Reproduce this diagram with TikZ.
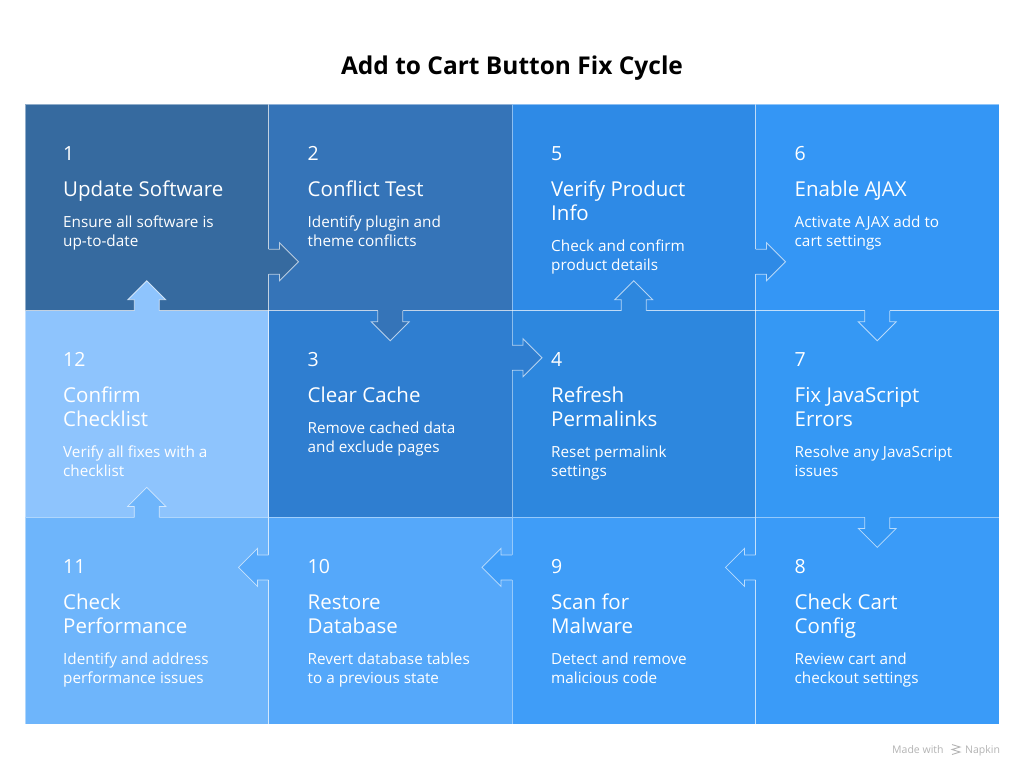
\documentclass[tikz,border=0pt]{standalone}
\usepackage{fontspec}
\setmainfont{Open Sans}
\usetikzlibrary{positioning}

\definecolor{c1col}{HTML}{366A9F}
\definecolor{c2col}{HTML}{3574B8}
\definecolor{c3col}{HTML}{2F7ED0}
\definecolor{c4col}{HTML}{2D87DE}
\definecolor{c5col}{HTML}{2E8AE6}
\definecolor{c6col}{HTML}{3496F5}
\definecolor{c7col}{HTML}{3598F4}
\definecolor{c8col}{HTML}{3A9BF8}
\definecolor{c9col}{HTML}{3F9DF8}
\definecolor{c10col}{HTML}{55A8FA}
\definecolor{c11col}{HTML}{6EB5FB}
\definecolor{c12col}{HTML}{8EC4FD}
\definecolor{markgray}{HTML}{B4B4B4}

\begin{document}
\begin{tikzpicture}[x=1pt, y=-1pt,
    node distance=0pt and 0pt,
    cell/.style={draw=white, draw opacity=0.45, line width=0.8pt, anchor=north west, minimum width=243.5pt, minimum height=206.7pt, inner sep=0pt, outer sep=0pt},
    num/.style={anchor=base west, inner sep=0pt, text=white, font=\fontsize{19.5}{23}\selectfont},
    ttl/.style={anchor=base west, inner sep=0pt, text=white, align=left, font=\fontsize{20.5}{24}\selectfont},
    desc/.style={anchor=base west, inner sep=0pt, text=white, align=left, font=\fontsize{15.3}{19}\selectfont},
    tabline/.style={draw=white, draw opacity=0.65, line width=0.8pt},
    tab/.pic={
      \fill[pic actions] (-2,-12.5) -- (11,-12.5) -- (11,-19) -- (30,0) -- (11,19) -- (11,12.5) -- (-2,12.5) -- cycle;
      \draw[tabline] (0,-12.5) -- (11,-12.5) -- (11,-19) -- (30,0) -- (11,19) -- (11,12.5) -- (0,12.5);
    }
  ]
  \fill[white] (0,0) rectangle (1024,774);
  \useasboundingbox (0,0) rectangle (1024,774);

  \node[font=\bfseries\fontsize{24.5}{28}\selectfont, anchor=base] (title) at (512,74) {Add to Cart Button Fix Cycle};

  % grid of steps
  \node[cell, fill=c1col] (c1) at (25,104) {};
  \node[cell, fill=c2col, right=of c1] (c2) {};
  \node[cell, fill=c5col, right=of c2] (c5) {};
  \node[cell, fill=c6col, right=of c5] (c6) {};
  \node[cell, fill=c12col, below=of c1] (c12) {};
  \node[cell, fill=c3col, right=of c12] (c3) {};
  \node[cell, fill=c4col, right=of c3] (c4) {};
  \node[cell, fill=c7col, right=of c4] (c7) {};
  \node[cell, fill=c11col, below=of c12] (c11) {};
  \node[cell, fill=c10col, right=of c11] (c10) {};
  \node[cell, fill=c9col, right=of c10] (c9) {};
  \node[cell, fill=c8col, right=of c9] (c8) {};

  % tabs between steps
  \pic[fill=c1col] at ([shift={(0,-49)}]c1.south east) {tab};
  \pic[fill=c2col, rotate=-90] at (c2.south) {tab};
  \pic[fill=c3col] at ([shift={(0,47)}]c3.north east) {tab};
  \pic[fill=c4col, rotate=90] at (c4.north) {tab};
  \pic[fill=c5col] at ([shift={(0,-49)}]c5.south east) {tab};
  \pic[fill=c6col, rotate=-90] at (c6.south) {tab};
  \pic[fill=c7col, rotate=-90] at (c7.south) {tab};
  \pic[fill=c8col, rotate=180] at ([shift={(0,50)}]c8.north west) {tab};
  \pic[fill=c9col, rotate=180] at ([shift={(0,50)}]c9.north west) {tab};
  \pic[fill=c10col, rotate=180] at ([shift={(0,50)}]c10.north west) {tab};
  \pic[fill=c11col, rotate=90] at (c11.north) {tab};
  \pic[fill=c12col, rotate=90] at (c12.north) {tab};

  % labels (base = last line)
  \node[num] (n1) at ([shift={(38,56)}]c1.north west) {1};
  \node[ttl] (t1) at ([shift={(38,92)}]c1.north west) {Update Software};
  \node[desc] (d1) at ([shift={(38,142)}]c1.north west) {Ensure all software is\\up-to-date};

  \node[num] (n2) at ([shift={(39,56)}]c2.north west) {2};
  \node[ttl] (t2) at ([shift={(39,92)}]c2.north west) {Conflict Test};
  \node[desc] (d2) at ([shift={(39,142)}]c2.north west) {Identify plugin and\\theme conflicts};

  \node[num] (n5) at ([shift={(39,56)}]c5.north west) {5};
  \node[ttl] (t5) at ([shift={(39,116)}]c5.north west) {Verify Product\\Info};
  \node[desc] (d5) at ([shift={(39,166)}]c5.north west) {Check and confirm\\product details};

  \node[num] (n6) at ([shift={(39,56)}]c6.north west) {6};
  \node[ttl] (t6) at ([shift={(39,92)}]c6.north west) {Enable A\kern-1.2pt JAX};
  \node[desc] (d6) at ([shift={(39,142)}]c6.north west) {Activate AJAX add to\\cart settings};

  \node[num] (n12) at ([shift={(38,56)}]c12.north west) {12};
  \node[ttl] (t12) at ([shift={(38,116)}]c12.north west) {Confirm\\Checklist};
  \node[desc] (d12) at ([shift={(38,166)}]c12.north west) {Verify all fixes with a\\checklist};

  \node[num] (n3) at ([shift={(39,56)}]c3.north west) {3};
  \node[ttl] (t3) at ([shift={(39,92)}]c3.north west) {Clear Cache};
  \node[desc] (d3) at ([shift={(39,142)}]c3.north west) {Remove cached data\\and exclude pages};

  \node[num] (n4) at ([shift={(39,56)}]c4.north west) {4};
  \node[ttl] (t4) at ([shift={(39,116)}]c4.north west) {Refresh\\Permalinks};
  \node[desc] (d4) at ([shift={(39,166)}]c4.north west) {Reset permalink\\settings};

  \node[num] (n7) at ([shift={(39,56)}]c7.north west) {7};
  \node[ttl] (t7) at ([shift={(39,116)}]c7.north west) {Fix JavaScript\\Errors};
  \node[desc] (d7) at ([shift={(39,166)}]c7.north west) {Resolve any JavaScript\\issues};

  \node[num] (n11) at ([shift={(38,56)}]c11.north west) {11};
  \node[ttl] (t11) at ([shift={(38,116)}]c11.north west) {Check\\Performance};
  \node[desc] (d11) at ([shift={(38,166)}]c11.north west) {Identify and address\\performance issues};

  \node[num] (n10) at ([shift={(39,56)}]c10.north west) {10};
  \node[ttl] (t10) at ([shift={(39,116)}]c10.north west) {Restore\\Database};
  \node[desc] (d10) at ([shift={(39,166)}]c10.north west) {Revert database tables\\to a previous state};

  \node[num] (n9) at ([shift={(39,56)}]c9.north west) {9};
  \node[ttl] (t9) at ([shift={(39,116)}]c9.north west) {Scan for\\Malware};
  \node[desc] (d9) at ([shift={(39,166)}]c9.north west) {Detect and remove\\malicious code};

  \node[num] (n8) at ([shift={(39,56)}]c8.north west) {8};
  \node[ttl] (t8) at ([shift={(39,116)}]c8.north west) {Check Cart\\Config};
  \node[desc] (d8) at ([shift={(39,166)}]c8.north west) {Review cart and\\checkout settings};

  % watermark
  \node[anchor=base west, inner sep=0pt, text=markgray, font=\fontsize{10.5}{12}\selectfont] (made) at (892,753) {Made with};
  \node[anchor=base west, inner sep=0pt, text=markgray, font=\fontsize{10.5}{12}\selectfont] (napkin) at (965,753) {Napkin};
  \draw[markgray, line width=0.9pt] (952,744.5) -- (960,747) -- (952,749.5) -- (960,752) -- (952,754.5);
\end{tikzpicture}
\end{document}
